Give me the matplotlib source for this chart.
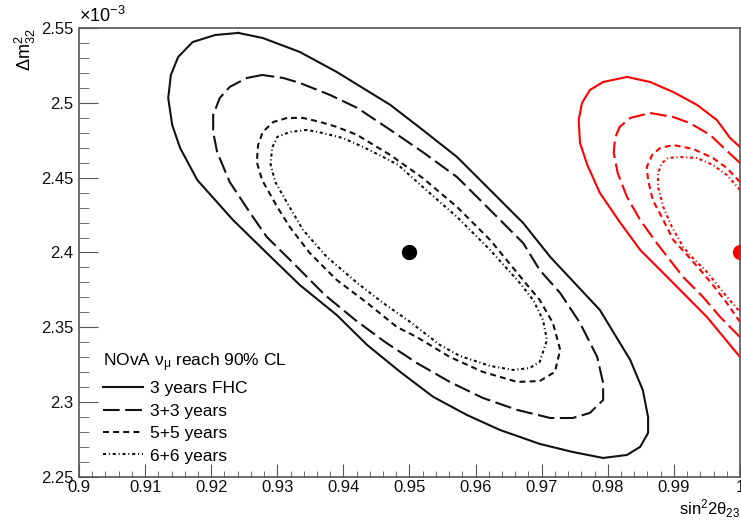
import numpy as np
import matplotlib.pyplot as plt
from matplotlib.ticker import MultipleLocator, FuncFormatter

plt.rcParams['font.family'] = ['Liberation Sans', 'DejaVu Sans']
plt.rcParams['mathtext.fontset'] = 'custom'
plt.rcParams['mathtext.rm'] = 'Liberation Sans'
plt.rcParams['mathtext.it'] = 'Liberation Sans:italic'
plt.rcParams['mathtext.default'] = 'regular'
plt.rcParams['lines.scale_dashes'] = False

# best fit points (sin^2 2theta23, dm2_32 in 1e-3 eV^2)
fit_x = [0.95, 1.0]
fit_y = [2.40, 2.40]

# 90% CL contours around the non-maximal point (black, closed)
fhc3_x = [0.9241, 0.9206, 0.9172, 0.9150, 0.9139, 0.9135, 0.9141, 0.9153, 0.9179,
          0.9233, 0.9284, 0.9334, 0.9390, 0.9436, 0.9486, 0.9536, 0.9587, 0.9637,
          0.9697, 0.9747, 0.9793, 0.9829, 0.9849, 0.9861, 0.9861, 0.9853, 0.9834,
          0.9788, 0.9713, 0.9672, 0.9622, 0.9572, 0.9520, 0.9471, 0.9390, 0.9334,
          0.9278]
fhc3_y = [2.5467, 2.5453, 2.5406, 2.5306, 2.5186, 2.5032, 2.4852, 2.4698, 2.4484,
          2.4217, 2.3997, 2.3783, 2.3582, 2.3382, 2.3202, 2.3035, 2.2914, 2.2814,
          2.2721, 2.2667, 2.2627, 2.2647, 2.2701, 2.2794, 2.2901, 2.3081, 2.3282,
          2.3616, 2.3970, 2.4197, 2.4418, 2.4638, 2.4819, 2.4986, 2.5206, 2.5340,
          2.5433]

y33_x = [0.9277, 0.9254, 0.9228, 0.9213, 0.9203, 0.9203, 0.9209, 0.9228, 0.9259,
         0.9284, 0.9324, 0.9372, 0.9418, 0.9463, 0.9511, 0.9561, 0.9611, 0.9663,
         0.9713, 0.9747, 0.9773, 0.9793, 0.9793, 0.9784, 0.9758, 0.9728, 0.9697,
         0.9672, 0.9622, 0.9572, 0.9520, 0.9471, 0.9421, 0.9380, 0.9334, 0.9309]
y33_y = [2.5186, 2.5166, 2.5106, 2.5032, 2.4919, 2.4805, 2.4671, 2.4471, 2.4264,
         2.4104, 2.3930, 2.3716, 2.3549, 2.3402, 2.3262, 2.3135, 2.3028, 2.2948,
         2.2894, 2.2894, 2.2928, 2.3014, 2.3128, 2.3302, 2.3529, 2.3729, 2.3883,
         2.4063, 2.4284, 2.4504, 2.4671, 2.4819, 2.4966, 2.5052, 2.5133, 2.5166]

y55_x = [0.9315, 0.9294, 0.9278, 0.9271, 0.9269, 0.9277, 0.9300, 0.9319, 0.9349,
         0.9390, 0.9436, 0.9481, 0.9511, 0.9561, 0.9611, 0.9663, 0.9697, 0.9720,
         0.9728, 0.9717, 0.9697, 0.9678, 0.9622, 0.9572, 0.9520, 0.9471, 0.9421,
         0.9390, 0.9365, 0.9339]
y55_y = [2.4899, 2.4872, 2.4805, 2.4718, 2.4605, 2.4484, 2.4304, 2.4170, 2.3997,
         2.3816, 2.3663, 2.3502, 2.3435, 2.3302, 2.3202, 2.3135, 2.3141, 2.3202,
         2.3349, 2.3529, 2.3683, 2.3783, 2.4084, 2.4304, 2.4498, 2.4651, 2.4785,
         2.4839, 2.4872, 2.4899]

y66_x = [0.9345, 0.9319, 0.9300, 0.9292, 0.9290, 0.9297, 0.9315, 0.9339, 0.9375,
         0.9421, 0.9460, 0.9501, 0.9546, 0.9576, 0.9622, 0.9657, 0.9682, 0.9697,
         0.9708, 0.9702, 0.9687, 0.9667, 0.9622, 0.9572, 0.9520, 0.9483, 0.9460,
         0.9430, 0.9399, 0.9369]
y66_y = [2.4819, 2.4805, 2.4772, 2.4698, 2.4585, 2.4471, 2.4331, 2.4150, 2.3970,
         2.3796, 2.3663, 2.3536, 2.3382, 2.3309, 2.3242, 2.3215, 2.3228, 2.3268,
         2.3415, 2.3549, 2.3683, 2.3796, 2.4017, 2.4237, 2.4438, 2.4585, 2.4638,
         2.4705, 2.4765, 2.4798]

# maximal mixing point (red, cut at sin^2 2theta23 = 1)
r_fhc3_x = [1.0, 0.9985, 0.9965, 0.9935, 0.9899, 0.9864, 0.9829, 0.9793, 0.9773,
            0.9761, 0.9756, 0.9758, 0.9769, 0.9788, 0.9818, 0.9849, 0.9899, 0.9950, 1.0]
r_fhc3_y = [2.4705, 2.4765, 2.4885, 2.4986, 2.5072, 2.5139, 2.5173, 2.5139, 2.5086,
            2.4999, 2.4885, 2.4732, 2.4585, 2.4398, 2.4204, 2.4017, 2.3796, 2.3569, 2.3302]

r_y33_x = [1.0, 0.9974, 0.9955, 0.9924, 0.9899, 0.9864, 0.9834, 0.9818, 0.9811,
           0.9809, 0.9815, 0.9829, 0.9849, 0.9874, 0.9914, 0.9944, 0.9970, 1.0]
r_y33_y = [2.4598, 2.4705, 2.4785, 2.4865, 2.4905, 2.4932, 2.4899, 2.4839, 2.4765,
           2.4665, 2.4531, 2.4371, 2.4217, 2.4063, 2.3836, 2.3703, 2.3569, 2.3435]

r_y55_x = [1.0, 0.9980, 0.9959, 0.9929, 0.9899, 0.9879, 0.9867, 0.9859, 0.9861,
           0.9868, 0.9884, 0.9899, 0.9920, 0.9940, 0.9959, 0.9980, 1.0]
r_y55_y = [2.4471, 2.4565, 2.4631, 2.4692, 2.4718, 2.4698, 2.4651, 2.4571, 2.4484,
           2.4351, 2.4217, 2.4084, 2.3983, 2.3883, 2.3783, 2.3663, 2.3536]

r_y66_x = [1.0, 0.9980, 0.9959, 0.9935, 0.9909, 0.9891, 0.9882, 0.9876, 0.9876,
           0.9884, 0.9897, 0.9914, 0.9927, 0.9950, 0.9974, 1.0]
r_y66_y = [2.4418, 2.4518, 2.4585, 2.4631, 2.4638, 2.4631, 2.4598, 2.4531, 2.4438,
           2.4304, 2.4170, 2.4037, 2.3970, 2.3870, 2.3736, 2.3603]

labels = ['3 years FHC', '3+3 years', '5+5 years', '6+6 years']
styles = ['-', (0, (12, 4)), (0, (4.3, 3)), (0, (2.2, 2, 0.8, 2))]


def closed(a):
    return list(a) + [a[0]]


fig = plt.figure(figsize=(7.41, 5.21), dpi=100)
ax = fig.add_axes([0.1066, 0.0845, 0.892, 0.8618])

black = [(fhc3_x, fhc3_y), (y33_x, y33_y), (y55_x, y55_y), (y66_x, y66_y)]
red = [(r_fhc3_x, r_fhc3_y), (r_y33_x, r_y33_y), (r_y55_x, r_y55_y), (r_y66_x, r_y66_y)]

handles = []
for (x, y), ls, lab in zip(black, styles, labels):
    h, = ax.plot(closed(x), closed(y), color='#111111', lw=1.5, ls=ls, label=lab)
    handles.append(h)
for (x, y), ls in zip(red, styles):
    ax.plot(x, y, color='#ff0000', lw=1.5, ls=ls)

ax.plot(fit_x[0], fit_y[0], 'o', color='black', ms=10)
ax.plot(fit_x[1], fit_y[1], 'o', color='#ff0000', ms=10)

ax.set_xlim(0.9, 1.0)
ax.set_ylim(2.25, 2.55)

ax.xaxis.set_major_locator(MultipleLocator(0.01))
ax.xaxis.set_minor_locator(MultipleLocator(0.002))
ax.yaxis.set_major_locator(MultipleLocator(0.05))
ax.yaxis.set_minor_locator(MultipleLocator(0.01))
fmt = FuncFormatter(lambda v, p: '%g' % round(v, 4))
ax.xaxis.set_major_formatter(fmt)
ax.yaxis.set_major_formatter(fmt)

for s in ax.spines.values():
    s.set_color('#555555')
    s.set_linewidth(1.2)
ax.tick_params(which='both', direction='in', top=False, right=False,
               color='#555555', labelsize=12, labelcolor='#111111')
ax.tick_params(axis='x', which='major', length=9.5, pad=2.5)
ax.tick_params(axis='x', which='minor', length=4.5)
ax.tick_params(axis='y', which='major', length=14, pad=4)
ax.tick_params(axis='y', which='minor', length=7)

ax.text(0.0, 1.005, r'$\times10^{-3}$', transform=ax.transAxes,
        ha='left', va='bottom', fontsize=13)
ax.set_xlabel(r'sin$^{2}$2$\theta_{23}$', fontsize=12, loc='right')
ax.xaxis.set_label_coords(1.0, -0.045)
ax.set_ylabel(r'$\Delta$m$^{2}_{32}$', fontsize=13, loc='top')
ax.yaxis.set_label_coords(-0.062, 1.0)

leg = ax.legend(handles=handles, loc='lower left', bbox_to_anchor=(0.036, 0.03),
                frameon=False, fontsize=12.5, title=r'NOvA $\nu_{\mu}$ reach 90% CL',
                title_fontsize=12.5, alignment='left', handlelength=2.3,
                handletextpad=0.4, labelspacing=0.42, borderpad=0, borderaxespad=0)

fig.savefig('out.png', dpi=100)
